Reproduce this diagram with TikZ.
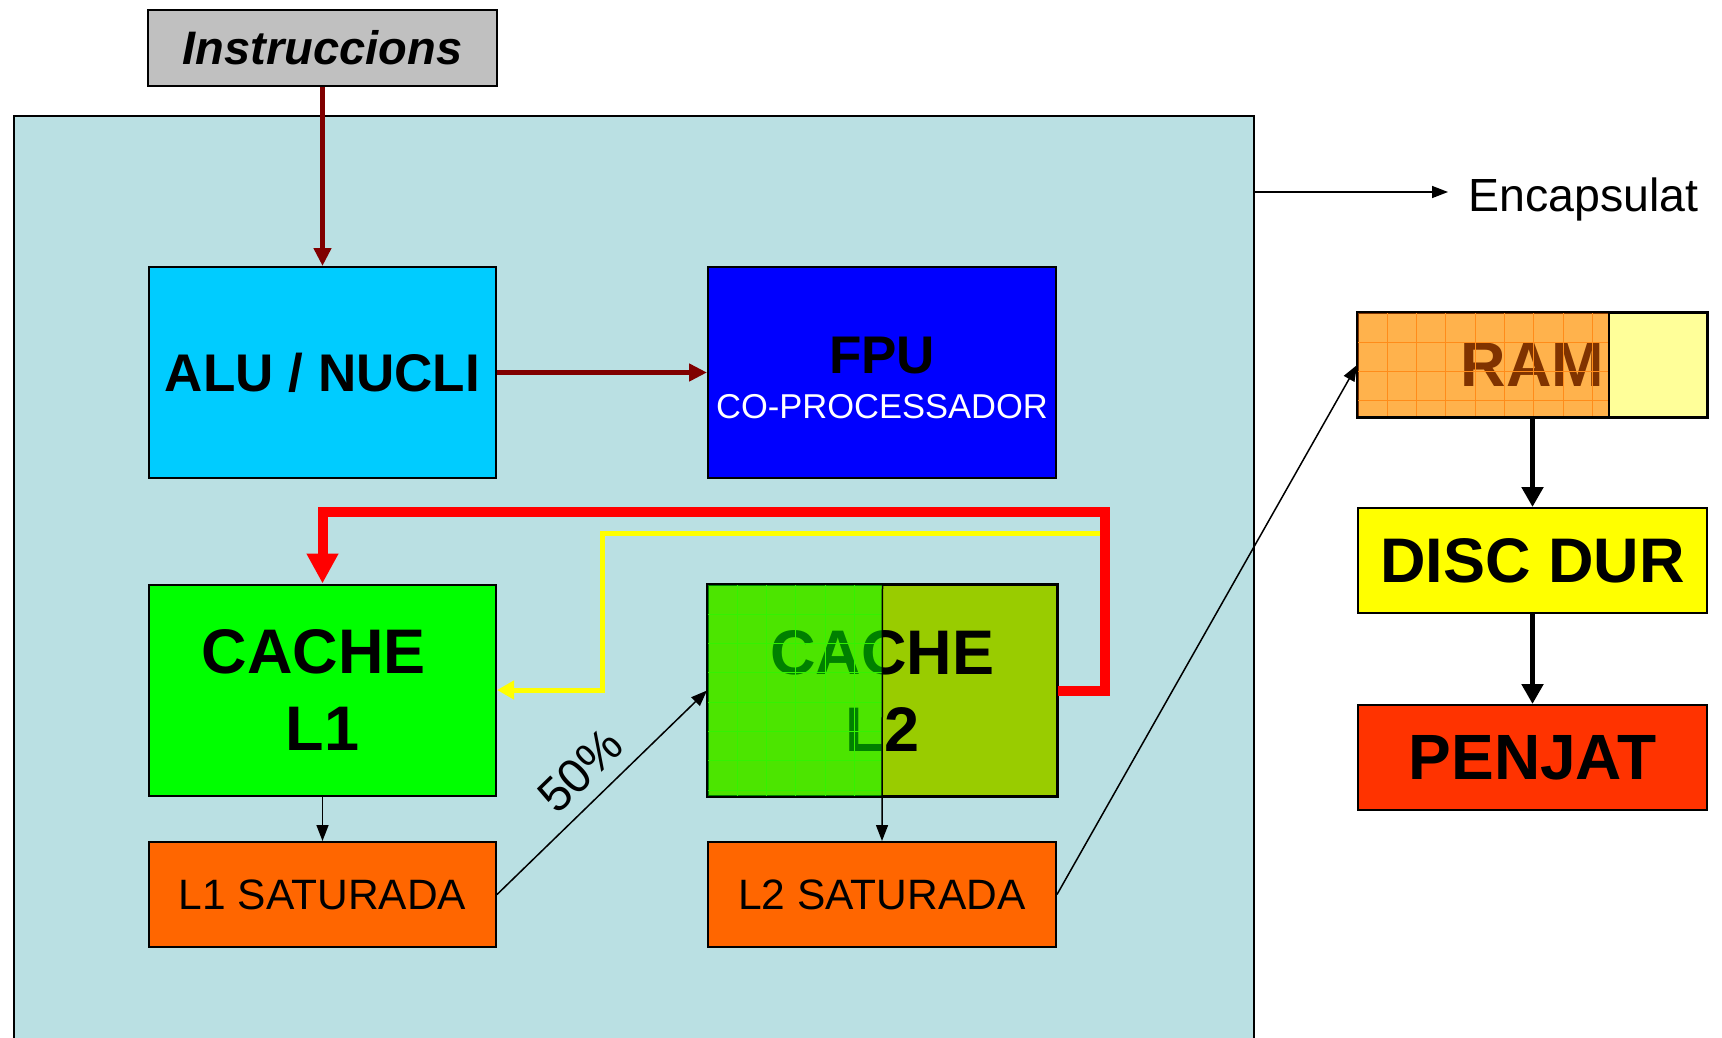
\documentclass[tikz,border=0pt]{standalone}
\usepackage{fontspec}
\setmainfont{Liberation Sans}
\usetikzlibrary{arrows.meta}
\definecolor{panelc}{HTML}{BAE0E3}
\definecolor{aluc}{HTML}{00CCFF}
\definecolor{fpuc}{HTML}{0000FF}
\definecolor{lonec}{HTML}{00FF00}
\definecolor{ltwoc}{HTML}{99CC00}
\definecolor{satc}{HTML}{FF6600}
\definecolor{instrc}{HTML}{C0C0C0}
\definecolor{ramc}{HTML}{FFFF99}
\definecolor{discc}{HTML}{FFFF00}
\definecolor{penjc}{HTML}{FF3300}
\definecolor{darkredc}{HTML}{800000}
\definecolor{yelc}{HTML}{FFFF00}
\definecolor{ramgridc}{HTML}{FF8C1A}
\definecolor{ltwogridc}{HTML}{33F200}
\begin{document}
\begin{tikzpicture}[x=1pt,y=-1pt,
  box/.style={draw=black, line width=2pt, inner sep=0pt, align=center, text=black},
  bigtxt/.style={font=\fontsize{63}{77}\selectfont\bfseries},
  sattxt/.style={font=\fontsize{42.5}{50}\selectfont},
  thinarrow/.style={draw=black, line width=1.5pt, -{Triangle[length=16pt,width=12pt]}},
  redarrow/.style={draw=darkredc, line width=5pt, -{Triangle[length=18pt,width=17pt]}},
  thickarrow/.style={draw=black, line width=5pt, -{Triangle[length=20pt,width=21pt]}},
  ramgrid/.style={draw=ramgridc, line width=1pt},
  ltwogrid/.style={draw=ltwogridc, line width=1pt}
]
\useasboundingbox (0,0) rectangle (1722,1037);
\fill[white] (0,0) rectangle (1722,1037);

% panel
\node (panel) [draw=black, line width=1.5pt, fill=panelc, minimum width=1240pt, minimum height=930pt, anchor=north west, inner sep=0pt] at (13,115) {};

% nodes
\node (instr) [box, fill=instrc, minimum width=349pt, minimum height=76pt,
  font=\fontsize{47}{56}\selectfont\bfseries\itshape] at (322.5,48) {Instruccions};
\node (alu) [box, fill=aluc, minimum width=347pt, minimum height=211pt,
  font=\fontsize{53}{64}\selectfont\bfseries] at (322.5,372.5) {ALU / NUCLI};
\node (fpu) [box, fill=fpuc, minimum width=348pt, minimum height=211pt] at (882,372.5) {};
\node (fputitle) [inner sep=0pt, anchor=base, font=\fontsize{53}{64}\selectfont\bfseries] at (882,373) {FPU};
\node (fpusub) [inner sep=0pt, anchor=base, text=white, font=\fontsize{34.5}{40}\selectfont] at (882,418) {CO-PROCESSADOR};

\node (l1) [box, fill=lonec, minimum width=347pt, minimum height=211pt, bigtxt] at (322.5,690) {CACHE\rule{17pt}{0pt}\\L1};
\node (l2) [box, fill=ltwoc, minimum width=349pt, minimum height=211pt, bigtxt] at (882.5,690.5) {CACHE\\L2};
\fill[lonec, fill opacity=0.5] (l2.north west) rectangle (l2.south);
\foreach \k in {1,...,5} \draw[ltwogrid] (708+29.3*\k,585) -- (708+29.3*\k,796);
\foreach \k in {1,...,7} \draw[ltwogrid] (708,585+29.3*\k) -- (882,585+29.3*\k);
\draw[black, line width=2pt] (l2.north west) rectangle (l2.south east);

\node (l1sat) [box, fill=satc, minimum width=347pt, minimum height=105pt, sattxt] at (322.5,894.5) {L1 SATURADA};
\node (l2sat) [box, fill=satc, minimum width=348pt, minimum height=105pt, sattxt] at (882,894.5) {L2 SATURADA};

\node (ram) [box, fill=ramc, minimum width=349pt, minimum height=104pt, bigtxt] at (1532.5,365) {RAM};
\coordinate (ramsplit) at (1609,417);
\fill[satc, fill opacity=0.5] (ram.north west) rectangle (ramsplit);
\foreach \k in {1,...,8} \draw[ramgrid] (1358+29.3*\k,313) -- (1358+29.3*\k,417);
\foreach \k in {1,2,3} \draw[ramgrid] (1358,313+29.3*\k) -- (1609,313+29.3*\k);
\draw[black, line width=2pt] (ram.north west) rectangle (ramsplit);
\draw[black, line width=2pt] (ram.north west) rectangle (ram.south east);

\node (disc) [box, fill=discc, minimum width=349pt, minimum height=105pt, bigtxt] at (1532.5,560.5) {DISC DUR};
\node (penjat) [box, fill=penjc, minimum width=349pt, minimum height=105pt, font=\fontsize{64}{77}\selectfont\bfseries] at (1532.5,757.5) {PENJAT};

% Encapsulat
\node (enc) [inner sep=0pt, anchor=base west, font=\fontsize{46.5}{56}\selectfont] at (1468,211) {Encapsulat};
\coordinate (encfrom) at (1253,192);
\coordinate (encto) at (1448,192);
\draw[thinarrow] (encfrom) -- (encto);

% connectors
\draw[redarrow] (instr.south) -- (alu.north);
\draw[redarrow] (alu.east) -- (fpu.west);

\coordinate (rc) at (1105,512);
\draw[red, line width=10pt, -{Triangle[length=30pt,width=30pt]}] (l2.east) -| (rc) -| (l1.north);

\coordinate (ys) at (1100,533);
\coordinate (yc) at (602,533);
\draw[yelc, line width=5pt, -{Triangle[length=17pt,width=18pt]}] (ys) -- (yc) |- (l1.east);

\draw[thinarrow] (l1.south) -- (l1sat.north);
\draw[thinarrow] (l2.north) -- (l2sat.north);
\draw[thinarrow] (l1sat.east) -- node[pos=0.5, above, sloped, inner sep=13pt, font=\fontsize{48}{56}\selectfont] (pct) {50\%} (l2.west);
\draw[thinarrow] (l2sat.east) -- (ram.west);

\draw[thickarrow] (ram.south) -- (disc.north);
\draw[thickarrow] (disc.south) -- (penjat.north);
\end{tikzpicture}
\end{document}
